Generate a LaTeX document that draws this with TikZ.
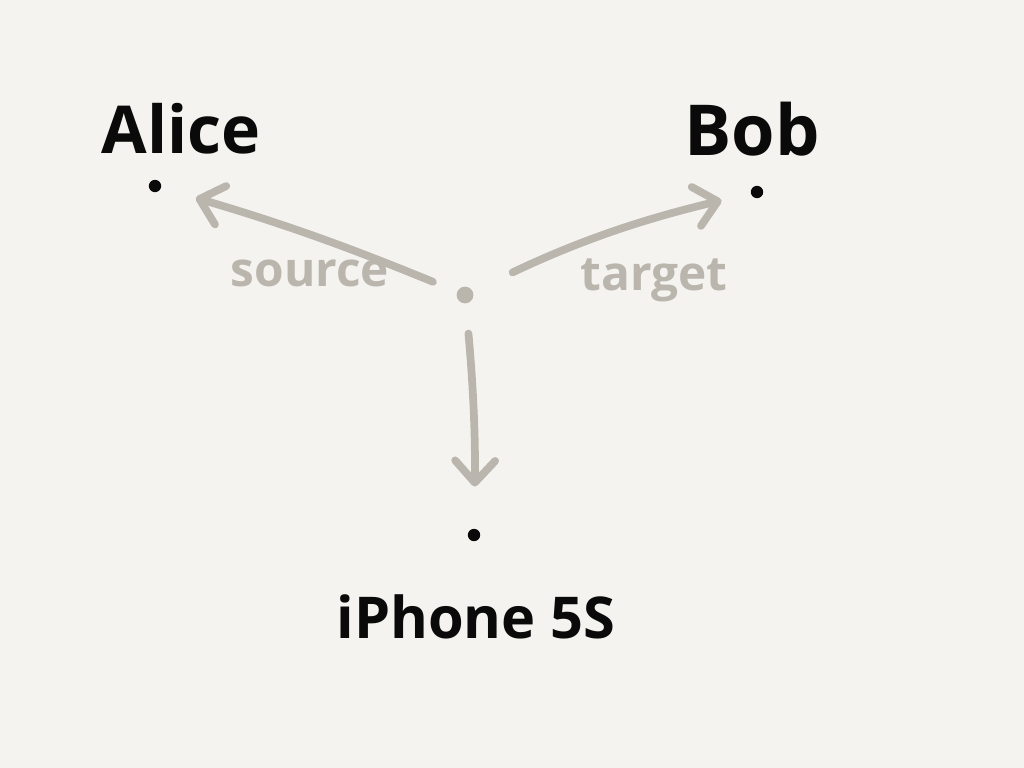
\documentclass[tikz,border=0pt]{standalone}
\usepackage{fontspec}
\setmainfont{Open Sans}
\usetikzlibrary{arrows.meta,positioning}

\definecolor{paper}{HTML}{F4F3EF}
\definecolor{pencil}{HTML}{BAB6AD}
\definecolor{ink}{HTML}{0A0A0A}

\tikzset{
  endpt/.style={circle, fill=ink, inner sep=0pt, minimum size=0.31cm},
  hubpt/.style={circle, fill=pencil, inner sep=0pt, minimum size=0.42cm},
  wholabel/.style={anchor=base, text=ink, font=\fontsize{47}{52}\selectfont\bfseries},
  rolelabel/.style={anchor=base, text=pencil, font=\fontsize{34}{40}\selectfont\bfseries},
  flowline/.style={draw=pencil, line width=5.5pt, line cap=round, line join=round,
    -{Straight Barb[length=5.5mm, width=10mm, line cap=round, line join=round]}},
}

\begin{document}
\begin{tikzpicture}[x=0.025cm, y=-0.025cm]
\fill[paper] (0,0) rectangle (1024,768);
\useasboundingbox (0,0) rectangle (1024,768);

% the three endpoints and the hub
\node[endpt] (aliceDot) at (155,186) {};
\node[endpt] (bobDot) at (757,192) {};
\node[endpt] (phoneDot) at (474,535) {};
\node[hubpt] (edge) at (465,295) {};

% names
\node[wholabel] (alice) at (181,153) {Alice};
\node[wholabel, font=\fontsize{50}{56}\selectfont\bfseries] (bob) at (752,155) {Bob};
\node[wholabel, font=\fontsize{41}{46}\selectfont\bfseries] (phone) at (476,638) {iPhone 5S};

% arrows out of the hub
\draw[flowline, shorten <=0.65cm, shorten >=0.9cm] (edge) to[bend right=3] (aliceDot);
\draw[flowline, shorten <=1.1cm, shorten >=0.75cm] (edge) to[bend left=6] (bobDot);
\draw[flowline, shorten <=0.75cm, shorten >=1.05cm] (edge) to[bend left=3] (phoneDot);

% roles
\node[rolelabel] (source) at (310,286) {source};
\node[rolelabel] (target) at (654,290) {target};
\end{tikzpicture}
\end{document}
